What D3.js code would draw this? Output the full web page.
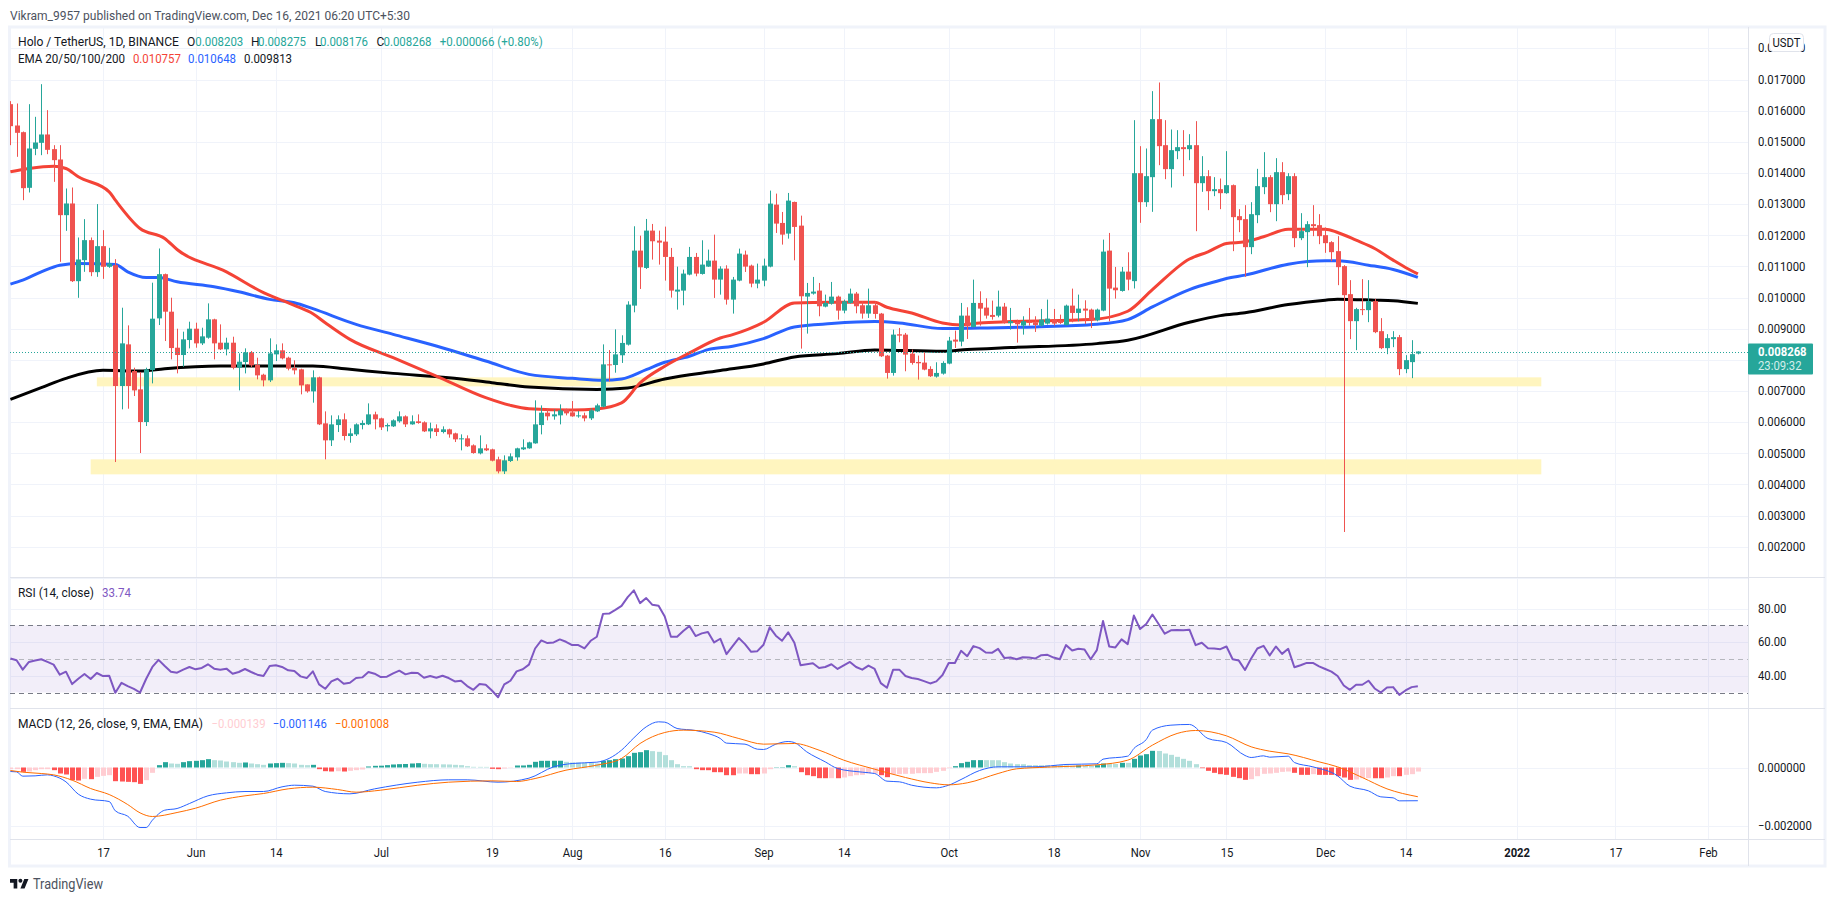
<!DOCTYPE html>
<html><head><meta charset="utf-8">
<style>html,body{margin:0;padding:0;background:#fff;overflow:hidden}svg{display:block}text{font-family:Roboto,"Noto Sans",sans-serif;font-size:12px;fill:#131722}</style>
<script src="https://cdnjs.cloudflare.com/ajax/libs/d3/7.8.5/d3.min.js"></script>
</head><body><svg id="c" width="1834" height="902"></svg>
<script>
// All price values are in millionths of a USDT; index 0 is 2 May 2021, one entry per day.
const startDate = Date.UTC(2021,4,2);
const opens=[16208,15523,15309,13523,14774,14967,15235,14764,14432,12645,13020,10526,11200,11843,10815,11650,10987,11040,7160,8497,7641,7053,6004,7673,9332,10751,9546,8390,8155,8636,9000,8529,8711,9300,8551,8337,8551,7748,7930,8240,7834,7523,7342,8176,8305,8069,7737,7695,7213,6988,7438,5961,5416,5907,6090,5555,5608,5907,5929,6250,6122,5865,5865,6026,6186,5929,6026,5994,5704,5801,5683,5769,5640,5448,5480,5255,4998,5159,5127,4806,4420,4752,4870,5127,5159,5319,5907,6304,6186,6218,6411,6314,6186,6218,6122,6346,6496,7855,7834,8147,8489,9741,11507,10950,12149,11828,11796,11304,10191,10223,10737,11304,10758,10993,11186,10576,10929,9934,10544,11379,11025,10448,10544,10993,12984,12395,12053,13069,12309,10031,10127,10223,9709,9805,10030,9581,9827,10127,9752,9485,9752,9485,8136,7580,8821,8810,8200,7933,7912,7708,7462,7558,7880,8650,8586,9420,9056,9827,9677,9442,9420,9709,9175,9206,9100,9228,9206,9100,9164,9303,9260,9120,9741,9506,9645,9613,9271,9581,11507,10319,10212,10833,10527,13993,13062,13865,15727,14892,14122,14700,14828,14764,14892,13672,13897,13415,13479,13351,13608,12613,12517,11618,12645,13544,13865,12998,14025,13319,13897,11907,12100,12356,12324,12003,11778,11490,11008,10109,9242,9628,9596,9885,8921,8376,8665,8729,7702,7927,8203];
const highs=[16305,16230,15330,16208,15802,16850,16016,14892,14892,13501,13533,11928,12517,11928,13000,12164,11597,11233,9674,9107,7748,7609,7748,10477,11575,10770,9995,9000,8904,9225,9193,9032,9813,9320,9139,8711,8743,8208,8369,8283,8069,7555,8690,8497,8529,8102,7984,7716,7213,7663,7460,6346,6218,6218,6282,5801,5961,6058,6603,6336,6144,5961,6090,6346,6218,6218,6250,6026,5984,5929,5865,5790,5662,5608,5576,5287,5576,5287,5148,4891,4934,4998,5180,5448,5372,6700,6539,6411,6411,6571,6432,6678,6357,6304,6442,6593,8497,8315,8979,8789,9880,12288,11988,12523,12363,12149,12277,11593,10993,10897,11625,11432,11839,11539,12020,11004,11036,10662,11571,11507,11057,11090,11250,13433,13337,12748,13358,13080,12630,10469,10662,10469,10094,10501,10062,9934,10287,10180,9880,10287,9880,9506,8157,8971,9025,8864,8329,8136,8243,7794,7922,7955,8736,8939,9827,9688,10576,10201,9977,9902,10223,9827,9667,9292,9399,9667,9399,9634,9934,9634,9452,9773,10287,10094,9912,9645,9645,11860,12074,10983,10983,11453,15695,14860,14785,16626,16904,15695,15395,15374,15374,15245,15663,14539,14090,13865,13822,14700,13630,12838,12966,13062,14132,14667,13929,14475,14346,13993,13993,12709,12452,12966,12677,12249,11810,11971,11040,10559,9670,10591,10559,9960,9339,8825,8921,8800,8151,8632,8275];
const lows=[14892,14518,13127,13373,14571,14571,14603,13715,11147,12142,10500,9992,10826,10687,10666,10601,10955,4720,6411,6432,6839,5009,5876,7245,9118,8604,8016,7566,7780,8369,8390,8476,8679,8016,8315,8144,7695,7020,7566,7770,7374,7149,7288,7962,8016,7663,7534,6892,6946,6625,5907,4806,5234,5683,5416,5341,5555,5769,5907,5769,5748,5704,5844,5984,5844,5918,5950,5683,5480,5555,5640,5502,5362,5095,5202,4988,4966,5073,4741,4356,4335,4720,4763,5105,5148,5308,5608,6058,6079,5929,6218,6175,6143,6026,6068,6325,6475,7309,7588,7901,8460,9527,10276,10918,11218,11058,10544,9998,9613,9752,10715,10683,10737,10983,9988,10094,9774,9485,10522,10822,10330,10298,10362,10971,12074,11700,11892,11196,8361,8843,10095,9399,9687,9773,9292,9495,9805,9495,9324,9345,9324,8093,7398,7494,8564,7634,7847,7366,7665,7451,7430,7526,7858,8382,8436,8671,9035,9099,9324,9291,9367,9164,8971,8554,8810,9100,8896,9068,9132,9100,9153,9100,9206,9239,9153,9020,9239,9560,9238,9966,10190,10234,10291,12399,12913,12752,14250,13801,13533,14443,13897,14411,12131,13394,12806,13255,12838,13330,11490,12099,10666,11393,12388,13319,12741,12452,12998,13127,11618,11843,10976,11971,11714,11436,11168,10398,2474,8665,8312,9435,9210,8857,8344,8183,8408,7509,7573,7413,8176];
const closes=[15502,15288,13512,14785,14977,15235,14742,14411,12645,13020,10526,11222,11843,10815,11650,10987,11094,7160,8529,7160,7020,6004,7695,9321,10751,9546,8379,8155,8658,9000,8529,8754,9300,8529,8337,8551,7748,7941,8240,7823,7502,7342,8208,8305,8048,7716,7663,7181,6988,7438,5929,5416,5929,6090,5555,5640,5929,5972,6250,6090,5833,5907,6058,6186,5929,6026,5972,5704,5801,5683,5769,5608,5448,5480,5224,5009,5159,5095,4763,4420,4774,4902,5159,5191,5351,5929,6304,6186,6250,6378,6282,6186,6218,6122,6378,6539,7855,7823,8176,8543,9774,11507,10972,12149,11807,11764,11304,10223,10255,10769,11304,10769,11058,11186,10576,10929,9934,10576,11411,10993,10448,10576,11025,13016,12374,12020,13112,12267,10041,10148,10191,9720,9827,10030,9581,9880,10127,9720,9485,9752,9474,8115,7580,8810,8778,8168,7901,7890,7687,7473,7580,7901,8618,8586,9420,9078,9827,9645,9420,9378,9709,9185,9239,9142,9239,9185,9120,9292,9324,9164,9185,9741,9506,9645,9581,9271,9613,11475,10287,10234,10833,10576,13993,13062,13897,15727,14860,14122,14732,14828,14764,14892,13672,13897,13415,13479,13351,13608,12581,12485,11618,12677,13576,13865,12998,14025,13287,13897,11907,12132,12356,12292,11971,11746,11457,10976,10077,9242,9628,9596,9885,8889,8376,8697,8729,7702,7991,8183,8268];

const ema50Days=[0,3,7,9,11,16,17,21,25,27,35,41,46,49,51,55,62,69,77,81,84,91,95,99,102,106,110,115,117,122,127,133,140,142,146,151,154,157,162,175,181,185,191,194,197,200,203,207,213,215,218,221,224,226,228];
const ema50Vals=[14036,14143,14218,14143,13876,13394,13127,12217,11896,11543,10826,10156,9749,9481,9193,8658,8069,7481,6785,6539,6432,6389,6424,6617,7259,7794,8222,8703,8810,9206,9827,9848,9848,9688,9506,9185,9121,9185,9228,9292,9560,10255,11239,11468,11736,11789,11950,12196,12196,12089,11843,11575,11201,10965,10757];
const ema100Days=[0,2,5,8,11,17,19,22,24,27,33,37,42,46,49,56,62,69,77,84,91,96,99,103,106,110,113,117,122,127,133,140,144,151,157,166,176,181,185,191,196,197,200,207,213,215,220,224,228];
const ema100Vals=[10430,10559,10826,11040,11094,11060,10826,10644,10644,10505,10345,10184,9942,9835,9642,9139,8818,8444,7962,7534,7406,7345,7387,7687,7922,8115,8329,8436,8682,9057,9164,9228,9185,9003,9025,9057,9142,9292,9699,10255,10555,10612,10719,11072,11179,11179,11040,10901,10648];
const ema200Days=[0,5,9,15,21,25,34,49,55,62,71,78,84,95,100,106,115,122,127,134,140,151,155,162,176,181,191,196,200,207,213,215,221,224,228];
const ema200Vals=[6732,7106,7406,7663,7641,7716,7802,7802,7695,7566,7427,7267,7127,7052,7098,7387,7655,7869,8094,8200,8318,8275,8329,8393,8521,8629,9206,9420,9510,9777,9917,9949,9917,9896,9813];

const rsiVals=[50.2,49.2,43.6,48.2,49,49.8,48.2,46.6,40.6,42.4,35,38.2,41,38,41.6,39.8,40,29.8,35.8,33.8,32.2,30,38.2,45.2,49.4,45.8,42.4,41.8,43.6,45.2,43.8,44.6,46.8,44.2,43.6,44.2,41.2,42.2,44,42.2,40.6,39.8,45.8,46.2,45.2,43.2,42.8,39.6,38.6,42.6,34.8,32.2,36.6,38.2,35.2,35.8,38.6,39,42.2,41.2,39.2,39.4,41.4,43,40.8,41.8,41.6,38.8,39.8,38.8,40,38.6,36.6,37,33.8,31.6,35,34.6,31.2,27.2,34.8,37,42.6,43.8,46.6,56.2,61,59.4,59.8,61.6,60.2,58.2,58.2,56.2,60.8,63.2,76.8,77,79.2,81.6,86.8,90.8,83.2,86.2,82.2,81.6,75.2,63.2,63.2,66.6,69.6,63.6,65.2,66,59.8,62,52.8,57.6,62.4,58.8,54.2,54.6,58.4,68.8,63.8,60.8,65.8,59.6,46.2,46.8,47.4,44.6,45.2,46.8,44,46.2,48.2,45.2,43.6,46,44,35.6,32.8,43.6,43.6,39.8,38.6,38,36.8,35.4,36.6,40.4,47.6,47.6,54.8,51.6,57.6,56.4,53.8,53.6,56,50.6,50.8,49.8,51,50.8,50.2,52.2,52.4,50.8,49.8,58.2,55,56,55.6,49.8,55.2,72.6,57.4,56.8,61.6,58.8,75.8,67.8,70.8,76.4,70.8,65,67,67.2,67,67.4,58.2,59.6,56.4,56.2,55.8,57.4,49.8,49,43.4,50.2,56.2,57.8,52,57.4,53,56,45,46.2,47.6,47.6,45.6,44,42.4,39.8,34.2,31.6,34.6,34.6,37,32.4,30,33,33.2,28.6,31.2,33.2,33.74];

const histVals=[-58,-57,-150,-138,-92,-58,-57,-92,-207,-241,-437,-449,-391,-403,-322,-288,-265,-472,-483,-495,-506,-564,-437,-184,81,184,138,127,184,219,230,253,288,253,242,207,184,161,173,138,115,92,138,150,161,150,138,92,81,92,-58,-127,-138,-127,-138,-115,-92,-69,35,58,63,81,104,115,121,138,150,127,115,114,109,104,92,81,46,23,22,21,-46,-58,-35,-12,69,70,92,196,230,231,232,233,196,173,172,161,160,138,230,253,288,311,391,506,529,598,564,541,426,253,115,46,45,-58,-92,-93,-161,-162,-265,-266,-207,-206,-230,-231,-207,-58,11,12,81,46,-161,-265,-299,-368,-369,-368,-370,-345,-299,-265,-253,-207,-206,-265,-333,-230,-229,-218,-217,-196,-195,-194,-150,-115,-23,46,150,196,253,254,253,252,251,184,138,115,114,81,80,79,78,77,76,70,60,70,65,60,80,138,130,120,161,160,299,414,460,575,570,483,437,368,299,230,115,-23,-115,-184,-230,-253,-322,-368,-426,-402,-299,-218,-207,-184,-150,-138,-184,-253,-254,-230,-253,-254,-255,-299,-345,-426,-414,-368,-367,-370,-371,-345,-299,-300,-253,-230,-139];
const macdDays=[0,1,2,4,6,7,9,11,13,16,17,19,21,22,23,25,27,29,32,35,38,41,44,46,49,51,55,59,66,71,74,79,84,88,91,95,99,101,103,105,106,108,111,113,115,116,119,121,122,124,126,127,129,132,134,138,140,142,144,146,150,152,154,157,160,166,171,176,177,181,182,184,185,188,191,194,197,200,201,203,204,207,208,211,215,217,220,222,224,225,228];
const macdVals=[-138,-150,-299,-288,-253,-288,-495,-920,-1092,-1173,-1495,-1679,-2070,-2070,-1817,-1472,-1414,-1242,-977,-874,-828,-828,-667,-610,-644,-828,-908,-736,-506,-425,-425,-506,-368,23,138,184,598,1023,1403,1575,1564,1345,1276,1173,1000,840,805,632,621,805,897,862,540,195,-35,-161,-207,-471,-494,-610,-701,-610,-414,-104,23,23,104,127,288,391,655,966,1288,1460,1484,1000,862,414,345,402,356,391,172,23,-288,-644,-805,-1012,-1046,-1150,-1146];
const signalDays=[0,2,5,7,10,13,16,19,21,23,27,30,34,38,41,45,49,53,56,60,66,71,78,82,85,90,95,99,102,106,109,114,118,122,127,131,135,140,145,149,152,155,160,163,168,176,181,185,189,192,197,201,204,207,212,215,219,223,228];
const signalVals=[-104,-161,-207,-253,-437,-725,-932,-1277,-1564,-1690,-1552,-1403,-1127,-977,-897,-736,-679,-759,-851,-782,-610,-506,-460,-483,-380,-92,81,311,828,1207,1288,1219,1000,805,828,598,253,-58,-345,-529,-598,-529,-207,-46,12,92,253,770,1173,1276,1092,713,563,471,195,23,-345,-736,-1008];

const zoneDays=[[13,248],[14,248]];
const zoneLows=[4324,7149];
const zoneHighs=[4806,7438];

const priceTicks=[17,16,15,14,13,12,11,10,9,7,6,5,4,3,2];
const priceGrid=[18,17,16,15,14,13,12,11,10,9,8,7,6,5,4,3,2,1];
const rsiTicks=[80,60,40];
const macdTicks=[0,-2000];
const timeTicks=[[2021,4,17,"17"],[2021,5,1,"Jun"],[2021,5,14,"14"],[2021,6,1,"Jul"],[2021,6,19,"19"],[2021,7,1,"Aug"],[2021,7,16,"16"],[2021,8,1,"Sep"],[2021,8,14,"14"],[2021,9,1,"Oct"],[2021,9,18,"18"],[2021,10,1,"Nov"],[2021,10,15,"15"],[2021,11,1,"Dec"],[2021,11,14,"14"],[2022,0,1,"2022"],[2022,0,17,"17"],[2022,1,1,"Feb"]];

const UP="#26a69a",DOWN="#ef5350",GRID="#f0f3fa",SEP="#e0e3eb";
const L=10,R=1748,FR=1825,TOP=27,P1B=577,P2B=708,P3B=839,BOT=866;
const svg=d3.select("#c");
const dayDate=i=>new Date(startDate+i*864e5);
const x=d3.scaleUtc().domain([dayDate(15),dayDate(226)]).range([103,1405.5]);
const xd=i=>x(dayDate(i));
const y=d3.scaleLinear().domain([17000,7000]).range([79.5,391]);
const yR=d3.scaleLinear().domain([70,30]).range([625.3,692.5]);
const yM=d3.scaleLinear().domain([0,-2000]).range([767.5,825.5]);
const px=v=>Math.round(v)+.5;

// frame
svg.append("rect").attr("x",9.5).attr("y",27).attr("width",FR-9.5).attr("height",BOT-27).attr("fill","#fff").attr("stroke",GRID).attr("stroke-width",3);
const defs=svg.append("defs");
[["cp1",TOP,P1B],["cp2",P1B,P2B],["cp3",P2B,P3B]].forEach(([id,a,b])=>defs.append("clipPath").attr("id",id).append("rect").attr("x",L).attr("y",a).attr("width",R-L).attr("height",b-a));

// vertical grid
const gridG=svg.append("g");
timeTicks.forEach(t=>{const X=px(x(new Date(Date.UTC(t[0],t[1],t[2]))));gridG.append("line").attr("x1",X).attr("x2",X).attr("y1",TOP).attr("y2",P3B).attr("stroke",GRID);});
// horizontal grids
priceGrid.forEach(v=>gridG.append("line").attr("x1",L).attr("x2",R).attr("y1",px(y(v*1000))).attr("y2",px(y(v*1000))).attr("stroke",GRID));
rsiTicks.forEach(v=>gridG.append("line").attr("x1",L).attr("x2",R).attr("y1",px(yR(v))).attr("y2",px(yR(v))).attr("stroke",GRID));
macdTicks.forEach(v=>gridG.append("line").attr("x1",L).attr("x2",R).attr("y1",px(yM(v))).attr("y2",px(yM(v))).attr("stroke",GRID));

// price pane
const pane=svg.append("g").attr("clip-path","url(#cp1)");
pane.selectAll("rect.zone").data(zoneLows).join("rect").attr("class","zone")
  .attr("x",(d,i)=>xd(zoneDays[i][0])).attr("width",(d,i)=>xd(zoneDays[i][1])-xd(zoneDays[i][0]))
  .attr("y",(d,i)=>y(zoneHighs[i])).attr("height",(d,i)=>y(d)-y(zoneHighs[i])).attr("fill","#fff5bf");
const line=(yy)=>d3.line().curve(d3.curveMonotoneX).x(d=>xd(d[0])).y(d=>yy(d[1]));
const zip=(a,b)=>a.map((v,i)=>[v,b[i]]);
[[ema200Days,ema200Vals,"#000"],[ema100Days,ema100Vals,"#2962ff"],[ema50Days,ema50Vals,"#f44336"]].forEach(([d,v,c])=>
  pane.append("path").attr("d",line(y)(zip(d,v))).attr("fill","none").attr("stroke",c).attr("stroke-width",3).attr("stroke-linejoin","round"));
const cand=pane.append("g").selectAll("g").data(opens).join("g");
cand.append("rect").attr("x",(d,i)=>Math.round(xd(i))).attr("width",1)
  .attr("y",(d,i)=>y(highs[i])).attr("height",(d,i)=>y(lows[i])-y(highs[i]))
  .attr("fill",(d,i)=>closes[i]>=d?UP:DOWN);
cand.append("rect").attr("x",(d,i)=>Math.round(xd(i))-2).attr("width",5)
  .attr("y",(d,i)=>y(Math.max(d,closes[i]))).attr("height",(d,i)=>Math.max(1,Math.abs(y(d)-y(closes[i]))))
  .attr("fill",(d,i)=>closes[i]>=d?UP:DOWN);
pane.append("line").attr("x1",L).attr("x2",R).attr("y1",px(y(closes[228]))).attr("y2",px(y(closes[228])))
  .attr("stroke",UP).attr("stroke-dasharray","1 2");

// RSI pane
const rp=svg.append("g").attr("clip-path","url(#cp2)");
rp.append("rect").attr("x",L).attr("width",R-L).attr("y",yR(70)).attr("height",yR(30)-yR(70)).attr("fill","#7e57c2").attr("fill-opacity",.1);
[[70,"#787b86"],[50,"#b6b7be"],[30,"#787b86"]].forEach(([v,c])=>rp.append("line").attr("x1",L).attr("x2",R).attr("y1",px(yR(v))).attr("y2",px(yR(v))).attr("stroke",c).attr("stroke-dasharray","5 4"));
rp.append("path").attr("d",d3.line().x((d,i)=>xd(i)).y(d=>yR(d))(rsiVals)).attr("fill","none").attr("stroke","#7e57c2").attr("stroke-width",2).attr("stroke-linejoin","round");

// MACD pane
const mp=svg.append("g").attr("clip-path","url(#cp3)");
mp.selectAll("rect").data(histVals).join("rect")
  .attr("x",(d,i)=>Math.round(xd(i))-2).attr("width",5)
  .attr("y",d=>d>=0?yM(d):yM(0)).attr("height",d=>Math.abs(yM(d)-yM(0)))
  .attr("fill",(d,i)=>{const p=i?histVals[i-1]:d;return d>=0?(d>=p?"#26a69a":"#b2dfdb"):(d<p?"#ff5252":"#ffcdd2");});
mp.append("path").attr("d",line(yM)(zip(macdDays,macdVals))).attr("fill","none").attr("stroke","#2962ff").attr("stroke-width",1);
mp.append("path").attr("d",line(yM)(zip(signalDays,signalVals))).attr("fill","none").attr("stroke","#ff6d00").attr("stroke-width",1);

// separators
[P1B,P2B,P3B].forEach(v=>svg.append("line").attr("x1",L).attr("x2",FR).attr("y1",v+.5).attr("y2",v+.5).attr("stroke",SEP).attr("stroke-width",1));
svg.append("line").attr("x1",R+.5).attr("x2",R+.5).attr("y1",TOP).attr("y2",BOT).attr("stroke",SEP);

// axes
const axisStyle=g=>{g.select(".domain").remove();g.selectAll(".tick line").remove();g.selectAll(".tick text").attr("font-family",null).attr("fill",null);g.attr("font-family",null).attr("font-size",null);return g;};
const squeeze=[];
const ax1=svg.append("g").attr("transform",`translate(${R},0)`).call(d3.axisRight(y).tickValues(priceTicks.map(v=>v*1000)).tickPadding(10).tickSize(0).tickFormat(v=>(v/1e6).toFixed(6))).call(axisStyle);
ax1.selectAll(".tick text").attr("class","axl");
// 0.018000 label sits under the USDT button
svg.append("text").attr("class","axl").attr("x",R+10).attr("y",y(18000)+3.5).text("0.018000");
svg.append("g").attr("transform",`translate(${R},0)`).call(d3.axisRight(yR).tickValues(rsiTicks).tickPadding(10).tickSize(0).tickFormat(v=>v.toFixed(2))).call(axisStyle).selectAll(".tick text").attr("class","axl");
svg.append("g").attr("transform",`translate(${R},0)`).call(d3.axisRight(yM).tickValues(macdTicks).tickPadding(10).tickSize(0).tickFormat(v=>(v/1e6).toFixed(6).replace("-","\u2212"))).call(axisStyle).selectAll(".tick text").attr("class","axl");
const tDates=timeTicks.map(t=>new Date(Date.UTC(t[0],t[1],t[2])));
const axT=svg.append("g").attr("transform",`translate(0,${P3B})`).call(d3.axisBottom(x).tickValues(tDates).tickPadding(9).tickSize(0).tickFormat((d,i)=>timeTicks[i][3])).call(axisStyle);
axT.selectAll(".tick text").attr("class","axl").attr("font-weight",(d,i)=>timeTicks[i][3]==="2022"?"bold":null);

// USDT button
svg.append("rect").attr("x",1769.5).attr("y",33.5).attr("width",34).attr("height",18).attr("rx",4).attr("fill","#fff").attr("stroke",SEP);
svg.append("text").attr("class","axl").attr("x",1786.5).attr("y",47).attr("text-anchor","middle").text("USDT");

// last price label
svg.append("rect").attr("x",R).attr("y",y(closes[228])-8).attr("width",65).attr("height",31).attr("rx",1).attr("fill",UP);
svg.append("text").attr("class","axl").attr("x",R+10).attr("y",356).attr("font-weight","bold").style("fill","#fff").text((closes[228]/1e6).toFixed(6));
svg.append("text").attr("class","axl").attr("x",R+10).attr("y",370).style("fill","#d4eeeb").text("23:09:32");

// legends
const T=(xp,yp,s,c,w)=>{const t=svg.append("text").attr("x",xp).attr("y",yp).attr("class","lg").text(s);if(c)t.style("fill",c);if(w)squeeze.push([t,w]);return t;};
T(10,20,"Vikram_9957 published on TradingView.com, Dec 16, 2021 06:20 UTC+5:30","#4c525e",400);
T(18,46,"Holo / TetherUS, 1D, BINANCE",null,161);
const legendO=[["O",187,195.3,"0.008203"],["H",251,258,"0.008275"],["L",315,320,"0.008176"],["C",376.4,383.5,"0.008268"]];
legendO.forEach(([k,a,b,v])=>{T(a,46,k);T(b,46,v,UP,48);});
T(439.7,46,"+0.000066 (+0.80%)",UP,103);
T(18,63,"EMA 20/50/100/200",null,107);
T(132.9,63,"0.010757","#f44336",48);T(188,63,"0.010648","#2962ff",48);T(244,63,"0.009813",null,48);
T(18,597,"RSI (14, close)",null,76);T(102,597,"33.74","#7e57c2",29);
T(18,728,"MACD (12, 26, close, 9, EMA, EMA)",null,185);
T(211.5,728,"\u22120.000139","#ffcdd2",54);T(272.8,728,"\u22120.001146","#2962ff",54);T(335,728,"\u22120.001008","#ff6d00",54);

// TradingView mark
svg.append("g").attr("transform","translate(10,877) scale(.52)").attr("fill","#131722").selectAll("path").data(["M14 22H7V11H0V4h14v18zM28 22h-8l7.5-18h8L28 22z"]).join("path").attr("d",d=>d);
svg.append("circle").attr("cx",10+20*.52).attr("cy",877+7*.52).attr("r",2).attr("fill","#131722");
T(33,889,"TradingView","#4c525e",70).style("font-size","14px");

// fit widths
squeeze.forEach(([t,w])=>t.attr("textLength",w).attr("lengthAdjust","spacingAndGlyphs"));
svg.selectAll("text.axl").each(function(){const n=this.getComputedTextLength();d3.select(this).attr("textLength",n*.94).attr("lengthAdjust","spacingAndGlyphs");});
// keep the USDT button above the top price label
svg.selectAll("rect").filter(function(){return +this.getAttribute("x")===1769.5;}).raise();
svg.selectAll("text").filter(function(){return this.textContent==="USDT";}).raise();
</script></body></html>
